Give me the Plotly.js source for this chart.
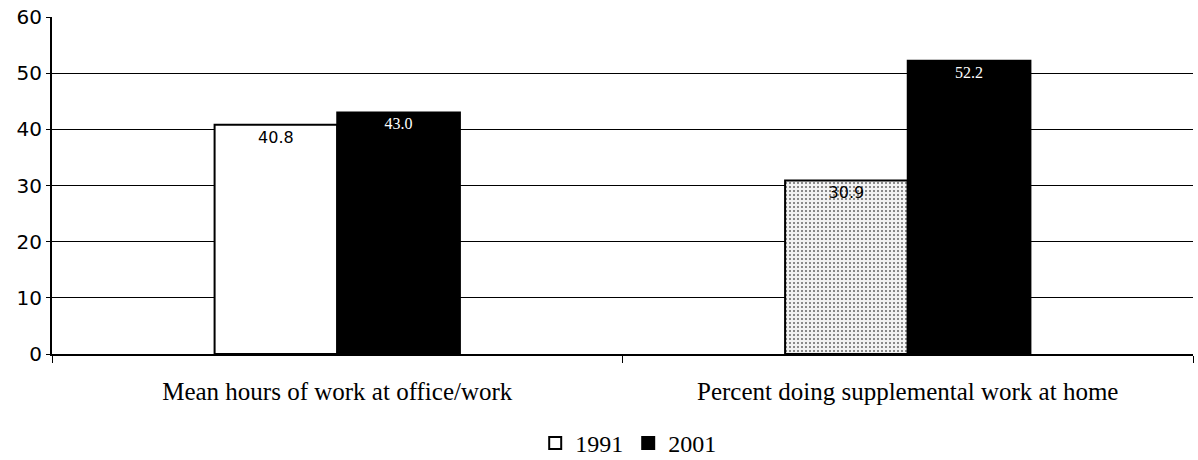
<!DOCTYPE html>
<html>
<head>
<meta charset="utf-8">
<script src="https://cdn.plot.ly/plotly-3.0.1.min.js"></script>
<style>
  html, body { margin: 0; padding: 0; background: #fff; }
  #chart { width: 1198px; height: 460px; }
</style>
</head>
<body>
<div id="chart"></div>
<script>
// Data
const categories = ['Mean hours of work at office/work', 'Percent doing supplemental work at home'];
const values1991 = [40.8, 30.9];
const values2001 = [43.0, 52.2];
const yTicks = [0, 10, 20, 30, 40, 50, 60];

const serif = 'Liberation Serif, Times New Roman, serif';

const trace1991 = {
    x: categories,
    y: values1991,
    name: '1991',
    type: 'bar',
    text: values1991.map(v => v.toFixed(1)),
    textposition: 'inside',
    insidetextanchor: 'end',
    textfont: { family: 'DejaVu Sans, sans-serif', size: 16, color: '#000' },
    marker: {
        color: '#ffffff',
        line: { color: '#000', width: 2 },
        pattern: { shape: ['', '.'], fgcolor: '#666', bgcolor: '#f2f2f2', size: 4, solidity: 0.2 }
    },
    hoverinfo: 'skip'
};

const trace2001 = {
    x: categories,
    y: values2001,
    name: '2001',
    type: 'bar',
    text: values2001.map(v => v.toFixed(1)),
    textposition: 'inside',
    insidetextanchor: 'end',
    textfont: { family: serif, size: 16, color: '#fff' },
    marker: { color: '#000', line: { color: '#000', width: 2 } },
    hoverinfo: 'skip'
};

const layout = {
    width: 1198,
    height: 460,
    margin: { l: 52, r: 5, t: 17, b: 106 },
    paper_bgcolor: '#fff',
    plot_bgcolor: '#fff',
    barmode: 'group',
    bargap: 0.57,
    bargroupgap: 0,
    showlegend: true,
    legend: {
        orientation: 'h',
        x: 0.505, xanchor: 'center',
        yref: 'container',
        y: 0.085, yanchor: 'top',
        font: { family: serif, size: 24, color: '#000' },
        itemwidth: 30,
        traceorder: 'normal'
    },
    xaxis: {
        type: 'category',
        showline: true, linecolor: '#000', linewidth: 2,
        ticks: 'outside', tickson: 'boundaries', ticklen: 7, tickcolor: '#000', tickwidth: 1,
        tickfont: { family: serif, size: 25, color: '#000' },
        ticklabelstandoff: 14,
        showgrid: false
    },
    yaxis: {
        range: [0, 60],
        tickvals: yTicks,
        showline: true, linecolor: '#000', linewidth: 2,
        ticks: 'outside', ticklen: 4, tickcolor: '#000',
        tickfont: { family: 'DejaVu Sans, sans-serif', size: 20, color: '#000' },
        showgrid: true, gridcolor: '#000', gridwidth: 1,
        zeroline: false
    }
};

Plotly.newPlot('chart', [trace1991, trace2001], layout, { displayModeBar: false, staticPlot: true });
</script>
</body>
</html>
